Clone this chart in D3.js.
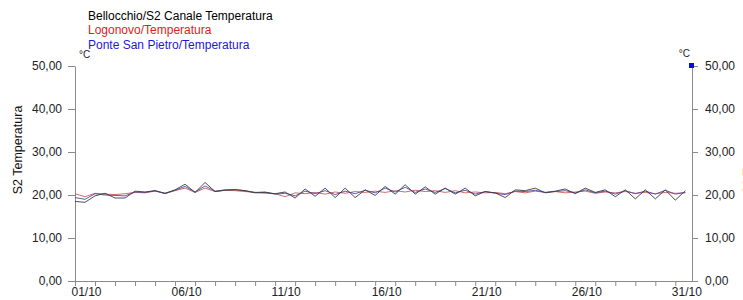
<!DOCTYPE html>
<html>
<head>
<meta charset="utf-8">
<script src="https://cdn.jsdelivr.net/npm/d3@7"></script>
<style>
  body { margin: 0; background: #fff; }
  svg { display: block; font-family: "Liberation Sans", Arial, sans-serif; }
</style>
</head>
<body>
<script>

// legend names (same order as the series below)
var seriesNames = ["Bellocchio/S2 Canale Temperatura", "Logonovo/Temperatura", "Ponte San Pietro/Temperatura"]

// readings every 12 hours, from 01/10 00:00
var bellocchio = [18.5, 18.3, 19.8, 20.4, 19.3, 19.3, 20.9, 20.7, 21.0, 20.4,
                  21.2, 22.5, 20.6, 22.9, 20.8, 21.1, 21.2, 21.0, 20.5, 20.6,
                  20.3, 20.7, 19.3, 21.4, 19.7, 21.6, 19.4, 21.6, 19.4, 21.2,
                  19.9, 22.0, 20.2, 22.4, 20.2, 21.9, 20.2, 21.6, 20.2, 21.6,
                  19.8, 20.8, 20.5, 19.4, 21.2, 21.0, 21.6, 20.5, 20.9, 21.4,
                  20.3, 21.6, 20.6, 21.2, 19.6, 21.2, 19.1, 21.2, 19.1, 21.2,
                  18.8, 21.0]

var logonovo = [20.3, 19.6, 20.4, 20.2, 20.1, 20.3, 20.6, 20.5, 20.9, 20.4,
                21.0, 21.6, 20.6, 21.6, 20.8, 21.1, 21.0, 20.8, 20.6, 20.4,
                20.3, 19.6, 20.5, 20.3, 20.6, 20.2, 20.7, 20.4, 20.8, 20.6,
                20.9, 20.6, 21.0, 20.7, 21.1, 20.8, 21.0, 20.6, 21.0, 20.5,
                20.7, 20.5, 20.6, 20.3, 20.8, 20.5, 20.9, 20.6, 20.8, 20.5,
                20.7, 20.9, 20.4, 20.7, 20.5, 20.8, 20.4, 20.6, 20.3, 20.6,
                20.4, 20.5]

var ponteSanPietro = [19.4, 19.0, 20.3, 20.0, 19.9, 19.8, 20.7, 20.6, 21.0, 20.3,
                      21.1, 22.0, 20.7, 22.1, 20.9, 21.2, 21.3, 21.0, 20.6, 20.7,
                      20.2, 20.4, 19.8, 20.9, 20.3, 21.0, 20.1, 20.9, 20.3, 21.1,
                      20.5, 21.6, 20.7, 21.8, 20.6, 21.4, 20.6, 21.5, 20.5, 21.1,
                      20.2, 20.8, 20.4, 20.1, 20.9, 20.8, 21.1, 20.6, 20.8, 21.0,
                      20.5, 21.2, 20.5, 20.9, 20.2, 21.0, 20.3, 20.9, 20.2, 21.1,
                      20.2, 20.6]

var yTicks = [0, 10, 20, 30, 40, 50]
var xTickLabels = ["01/10", "06/10", "11/10", "16/10", "21/10", "26/10", "31/10"]

var width = 743, height = 300
var plotLeft = 75, plotRight = 692, plotTop = 66, plotBottom = 281

var start = new Date(Date.UTC(2023, 9, 1))
var end = new Date(Date.UTC(2023, 9, 31, 20))

var times = bellocchio.map((d, i) => d3.utcHour.offset(start, i * 12))

var x = d3.scaleUtc().domain([start, end]).range([plotLeft, plotRight])
var y = d3.scaleLinear().domain([0, 50]).range([plotBottom, plotTop])

var fmt = v => d3.format(".2f")(v).replace(".", ",")

const svg = d3.select("body").append("svg").attr("width", width).attr("height", height)

// legend
var legendColors = ["#000000", "#e0201c", "#1c1cc8"]
svg.append("g")
  .attr("font-size", 12)
  .selectAll("text")
  .data(seriesNames)
  .join("text")
    .attr("x", 88)
    .attr("y", (d, i) => 20 + i * 14.3)
    .attr("fill", (d, i) => legendColors[i])
    .text(d => d)

// left axis
var yLeft = svg.append("g")
  .attr("transform", "translate(" + plotLeft + ",0)")
  .call(d3.axisLeft(y).tickValues(yTicks).tickFormat(fmt).tickSize(7).tickPadding(6).tickSizeOuter(0))
yLeft.selectAll("text").attr("font-size", 12).attr("fill", "#222").attr("font-family", "Liberation Sans, Arial, sans-serif")

// right axis
var yRight = svg.append("g")
  .attr("transform", "translate(" + plotRight + ",0)")
  .call(d3.axisRight(y).tickValues(yTicks).tickFormat(fmt).tickSize(6).tickPadding(7).tickSizeOuter(0))
yRight.selectAll("text").attr("font-size", 12).attr("fill", "#222").attr("font-family", "Liberation Sans, Arial, sans-serif")

// bottom axis, one tick per day, label every 5 days
var dayTicks = d3.utcDay.range(start, end)
var xAxis = svg.append("g")
  .attr("transform", "translate(0," + plotBottom + ")")
  .call(d3.axisBottom(x).tickValues(dayTicks).tickSize(5).tickSizeOuter(0)
    .tickFormat((d, i) => i % 5 == 0 ? xTickLabels[i / 5] : ""))
xAxis.selectAll("text")
  .attr("font-size", 12).attr("fill", "#222").attr("font-family", "Liberation Sans, Arial, sans-serif")
  .attr("text-anchor", "start").attr("x", -4).attr("dy", "0.6em")

svg.selectAll(".domain, .tick line").attr("stroke", "#8a8a8a")

// units
svg.append("text").attr("x", 79).attr("y", 58).attr("font-size", 10).attr("fill", "#222").text("°C")
svg.append("text").attr("x", 690).attr("y", 57).attr("font-size", 10).attr("fill", "#222")
  .attr("text-anchor", "end").text("°C")

// axis titles
svg.append("text")
  .attr("transform", "translate(22,150) rotate(-90)")
  .attr("text-anchor", "middle")
  .attr("font-size", 12.5)
  .attr("fill", "#111")
  .text("S2 Temperatura")

svg.append("text")
  .attr("transform", "translate(752,150) rotate(-90)")
  .attr("text-anchor", "middle")
  .attr("font-size", 12.5)
  .attr("fill", "#111")
  .text("S2 Temperatura")

// marker on top of right axis
svg.append("rect")
  .attr("x", plotRight - 3).attr("y", y(50) - 3)
  .attr("width", 5).attr("height", 5)
  .attr("fill", "#0a0ae0")

// series
var line = d3.line()
  .x((d, i) => x(times[i]))
  .y(d => y(d))

var series = [
  {values: logonovo, color: "#d05a5a"},
  {values: ponteSanPietro, color: "#4a4aa8"},
  {values: bellocchio, color: "#3c3c3c"}
]

svg.append("g")
  .attr("fill", "none")
  .attr("stroke-width", 0.9)
  .selectAll("path")
  .data(series)
  .join("path")
    .attr("stroke", d => d.color)
    .attr("d", d => line(d.values))

</script>
</body>
</html>
